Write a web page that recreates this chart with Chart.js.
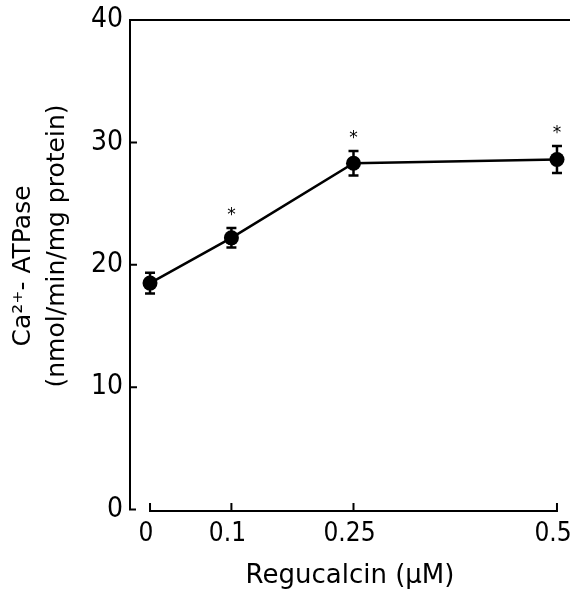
<!DOCTYPE html>
<html>
<head>
<meta charset="utf-8">
<script src="https://cdn.jsdelivr.net/npm/chart.js@4"></script>
<style>
  html, body { margin: 0; padding: 0; background: #fff; }
  canvas { display: block; }
</style>
</head>
<body>
<canvas id="atpaseChart" width="570" height="589"></canvas>
<script>
const concentrations = [0, 0.1, 0.25, 0.5];
const atpaseMeans = [18.5, 22.2, 28.3, 28.6];
const atpaseErrors = [0.85, 0.8, 1.0, 1.1];
const significant = [false, true, true, true];
const xTickValues = [0, 0.1, 0.25, 0.5];
const xTickLabels = ["0", "0.1", "0.25", "0.5"];
const yTickValues = [0, 10, 20, 30, 40];
const xTitle = "Regucalcin (µM)";
const yTitleLines = ["Ca²⁺- ATPase", "(nmol/min/mg protein)"];

const FONT = "DejaVu Sans";
const TICK_FONT = "'Liberation Sans Narrow', 'DejaVu Sans Condensed', 'DejaVu Sans'";

// axes, error bars, asterisks and the two-line y title
const decorations = {
  id: "decorations",
  beforeDatasetsDraw(chart) {
    const { ctx, chartArea: area, scales: { x, y } } = chart;
    ctx.save();
    ctx.strokeStyle = "#000";
    ctx.lineWidth = 2;
    ctx.lineCap = "square";

    const y0 = y.getPixelForValue(yTickValues[0]);
    ctx.beginPath();
    ctx.moveTo(area.right, area.top);
    ctx.lineTo(area.left, area.top);
    ctx.lineTo(area.left, y0);
    ctx.lineTo(area.left + 5, y0);
    yTickValues.slice(1, -1).forEach((v) => {
      const py = y.getPixelForValue(v);
      ctx.moveTo(area.left, py);
      ctx.lineTo(area.left + 6, py);
    });
    ctx.stroke();

    const xb = y0 + 1.5;
    ctx.beginPath();
    ctx.moveTo(x.getPixelForValue(xTickValues[0]), xb);
    ctx.lineTo(x.getPixelForValue(xTickValues[xTickValues.length - 1]), xb);
    xTickValues.forEach((v) => {
      const px = x.getPixelForValue(v);
      ctx.moveTo(px, xb);
      ctx.lineTo(px, xb - 7);
    });
    ctx.stroke();

    // error bars
    ctx.lineWidth = 2.5;
    ctx.lineCap = "butt";
    concentrations.forEach((c, i) => {
      const px = x.getPixelForValue(c);
      const top = y.getPixelForValue(atpaseMeans[i] + atpaseErrors[i]);
      const bot = y.getPixelForValue(atpaseMeans[i] - atpaseErrors[i]);
      ctx.beginPath();
      ctx.moveTo(px, top);
      ctx.lineTo(px, bot);
      ctx.moveTo(px - 5, top);
      ctx.lineTo(px + 5, top);
      ctx.moveTo(px - 5, bot);
      ctx.lineTo(px + 5, bot);
      ctx.stroke();
    });
    ctx.restore();
  },
  afterDraw(chart) {
    const { ctx, scales: { x, y } } = chart;
    ctx.save();
    ctx.fillStyle = "#000";
    ctx.textAlign = "center";

    ctx.font = "17px " + FONT;
    ctx.textBaseline = "alphabetic";
    concentrations.forEach((c, i) => {
      if (!significant[i]) return;
      const px = x.getPixelForValue(c);
      const top = y.getPixelForValue(atpaseMeans[i] + atpaseErrors[i]);
      ctx.fillText("*", px, top - 16 + 8);
    });

    ctx.font = "25px " + FONT;
    ctx.textBaseline = "middle";
    const titlePos = [[23, 266], [57, 246]];
    yTitleLines.forEach((line, i) => {
      ctx.save();
      ctx.translate(titlePos[i][0], titlePos[i][1]);
      ctx.rotate(-Math.PI / 2);
      ctx.fillText(line, 0, 0);
      ctx.restore();
    });
    ctx.restore();
  }
};

document.addEventListener("DOMContentLoaded", () => {
  const ctx = document.getElementById("atpaseChart").getContext("2d");
  new Chart(ctx, {
    type: "line",
    data: {
      datasets: [
        {
          label: "Ca2+-ATPase",
          data: concentrations.map((c, i) => ({ x: c, y: atpaseMeans[i] })),
          borderColor: "#000",
          borderWidth: 2.5,
          tension: 0,
          pointRadius: 7.5,
          pointBackgroundColor: "#000",
          pointBorderWidth: 0,
          clip: false,
        },
      ],
    },
    options: {
      responsive: false,
      animation: false,
      layout: { autoPadding: false, padding: { top: 20, left: 0, right: 0, bottom: 0 } },
      plugins: {
        legend: { display: false },
        tooltip: { enabled: false },
      },
      scales: {
        x: {
          type: "linear",
          min: -0.0246,
          max: 0.516,
          grid: { display: false, drawTicks: false },
          border: { display: false },
          afterBuildTicks: (scale) => {
            scale.ticks = xTickValues.map((value) => ({ value }));
          },
          afterFit: (scale) => {
            scale.height = 79.5;
            scale.paddingLeft = 0;
            scale.paddingRight = 0;
          },
          ticks: {
            autoSkip: false,
            maxRotation: 0,
            padding: 9,
            labelOffset: -4,
            color: "#000",
            font: { family: TICK_FONT, size: 26 },
            callback: (value) => xTickLabels[xTickValues.indexOf(value)],
          },
          title: {
            display: true,
            text: xTitle,
            color: "#000",
            font: { family: FONT, size: 26, lineHeight: 1 },
            padding: { top: 0, bottom: 0 },
          },
        },
        y: {
          min: 0,
          max: 40,
          grid: { display: false, drawTicks: false },
          border: { display: false },
          afterBuildTicks: (scale) => {
            scale.ticks = yTickValues.map((value) => ({ value }));
          },
          afterFit: (scale) => {
            scale.width = 130;
            scale.paddingTop = 0;
            scale.paddingBottom = 0;
          },
          ticks: {
            padding: 7,
            color: "#000",
            font: { family: TICK_FONT, size: 28 },
          },
        },
      },
    },
    plugins: [decorations],
  });
});
</script>
</body>
</html>
